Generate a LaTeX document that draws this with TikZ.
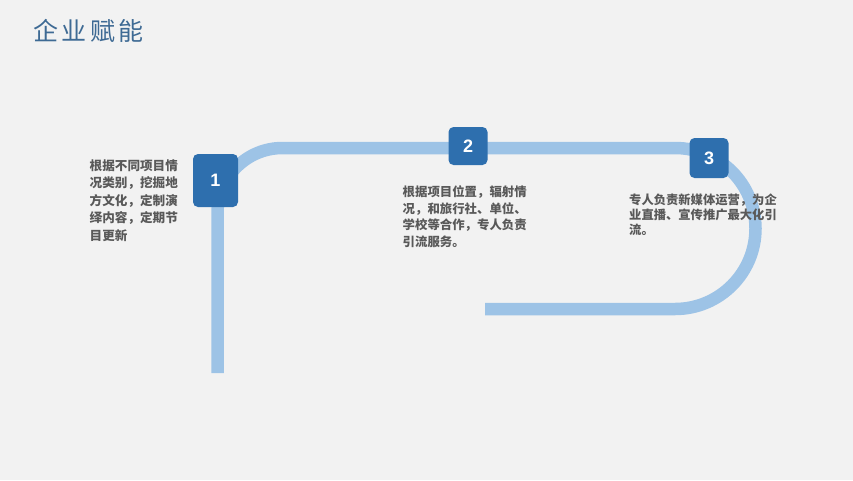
\documentclass[tikz,border=0pt]{standalone}
\usepackage{fontspec}
\newfontfamily\cjk{Noto Sans CJK SC}
\newfontfamily\numfont{Liberation Sans}
\definecolor{bg}{HTML}{F2F2F2}
\definecolor{pathblue}{HTML}{9DC3E6}
\definecolor{boxblue}{HTML}{2E6FAE}
\definecolor{titleblue}{HTML}{3E6A94}
\definecolor{txtgray}{HTML}{595959}
\tikzset{
  pathline/.style={draw=pathblue, line width=12.5pt},
  numbox/.style={fill=boxblue, rounded corners=5pt, text=white, font=\numfont\bfseries\fontsize{18}{18}\selectfont, inner sep=0pt},
  desc/.style={anchor=north west, inner sep=0pt, align=left, text=txtgray, font=\cjk\bfseries\fontsize{12.6}{17.5}\selectfont},
}
\begin{document}
\begin{tikzpicture}[x=1pt,y=-1pt]
\fill[bg] (0,0) rectangle (853,480);
\useasboundingbox (0,0) rectangle (853,480);
\node[anchor=west, inner sep=0pt, text=titleblue, font=\cjk\fontsize{25}{25}\selectfont\addfontfeature{LetterSpace=14}] (title) at (33,31) {企业赋能};
\coordinate (start) at (217.5,373);
\coordinate (endp) at (485,309);
\draw[pathline] (start) -- (217.5,213) arc(180:270:65) -- (675,148) arc(-90:90:80.5) -- (endp);
\node[numbox, minimum width=45pt, minimum height=53pt] (b1) at (215.5,180.5) {1};
\node[numbox, minimum width=39pt, minimum height=38pt] (b2) at (468,146) {2};
\node[numbox, minimum width=39pt, minimum height=40pt] (b3) at (709,158) {3};
\node[desc] (t1) at (89.5,159.5) {根据不同项目情\\况类别，挖掘地\\方文化，定制演\\绎内容，定期节\\目更新};
\node[desc, font=\cjk\bfseries\fontsize{12.4}{16.5}\selectfont] (t2) at (402.5,185.5) {根据项目位置，辐射情\\况，和旅行社、单位、\\学校等合作，专人负责\\引流服务。};
\node[desc, font=\cjk\bfseries\fontsize{12.3}{15}\selectfont] (t3) at (629,194) {专人负责新媒体运营，为企\\业直播、宣传推广最大化引\\流。};
\end{tikzpicture}
\end{document}
